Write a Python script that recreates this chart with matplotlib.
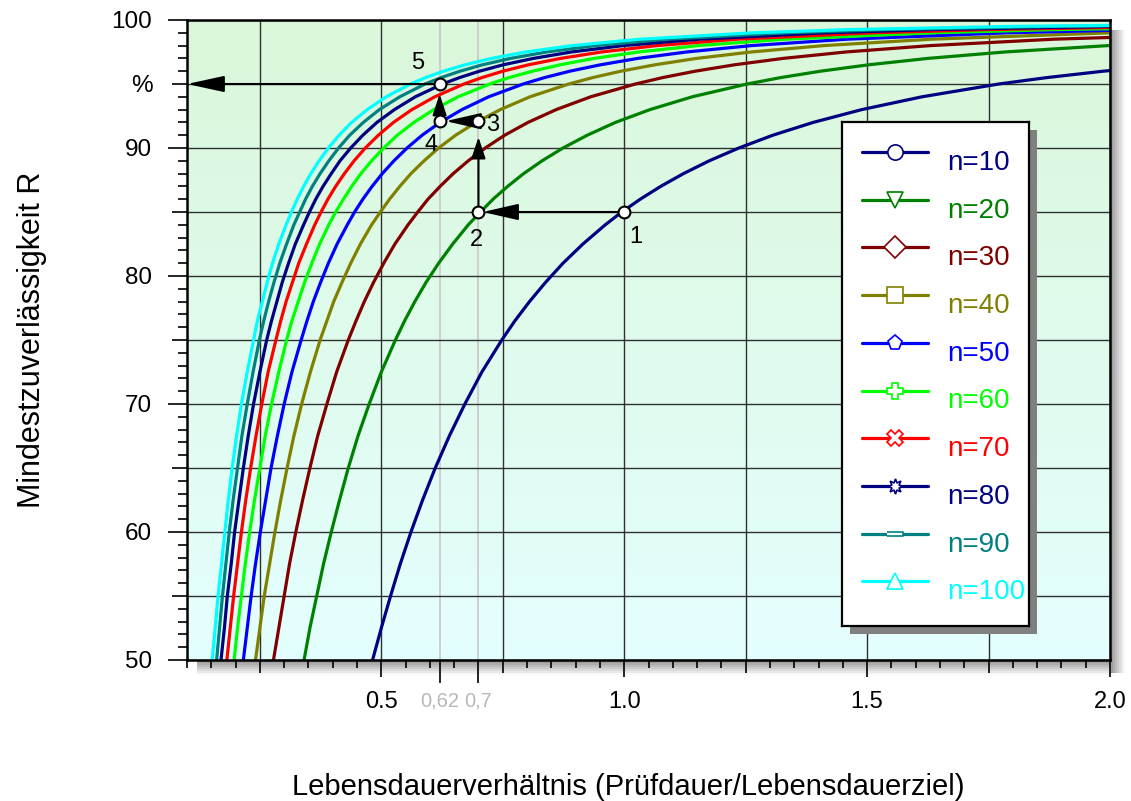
import numpy as np
import matplotlib
matplotlib.use('Agg')
import matplotlib.pyplot as plt
from matplotlib.patches import Rectangle

plt.rcParams['font.family'] = ['Liberation Sans', 'DejaVu Sans']

# Reliability levels (%) shared by all curves
r_levels = [50, 52.5, 55, 57.5, 60, 62.5, 65, 67.5, 70, 72.5, 75, 76.5, 78, 79.5,
            81, 82.5, 84, 85, 86, 87, 88, 89, 90, 91, 92, 93, 94, 95, 95.5, 96,
            96.5, 97, 97.5, 98, 98.5, 99, 99.25, 99.5, 99.7]

# Life ratio at which each curve reaches the levels above
lv_n10 = [0.482, 0.500, 0.519, 0.539, 0.561, 0.585, 0.611, 0.640, 0.672, 0.707,
          0.748, 0.775, 0.805, 0.838, 0.874, 0.915, 0.961, 0.995, 1.033, 1.075,
          1.122, 1.175, 1.236, 1.306, 1.389, 1.489, 1.613, 1.771, 1.870, 1.986,
          2.125]
lv_n20 = [0.341, 0.353, 0.367, 0.381, 0.397, 0.414, 0.432, 0.452, 0.475, 0.500,
          0.529, 0.548, 0.569, 0.592, 0.618, 0.647, 0.679, 0.704, 0.730, 0.760,
          0.793, 0.831, 0.874, 0.924, 0.982, 1.053, 1.140, 1.253, 1.322, 1.404,
          1.503, 1.625, 1.783, 1.996, 2.307]
lv_n30 = [0.278, 0.289, 0.300, 0.311, 0.324, 0.338, 0.353, 0.369, 0.388, 0.408,
          0.432, 0.448, 0.465, 0.484, 0.505, 0.528, 0.555, 0.575, 0.596, 0.621,
          0.648, 0.679, 0.714, 0.754, 0.802, 0.860, 0.931, 1.023, 1.079, 1.146,
          1.227, 1.327, 1.456, 1.630, 1.884, 2.310]
lv_n40 = [0.241, 0.250, 0.259, 0.270, 0.281, 0.293, 0.306, 0.320, 0.336, 0.354,
          0.374, 0.388, 0.402, 0.419, 0.437, 0.457, 0.480, 0.498, 0.517, 0.538,
          0.561, 0.588, 0.618, 0.653, 0.695, 0.745, 0.806, 0.886, 0.935, 0.993,
          1.063, 1.149, 1.261, 1.411, 1.632, 2.001]
lv_n50 = [0.216, 0.224, 0.232, 0.241, 0.251, 0.262, 0.273, 0.286, 0.300, 0.316,
          0.335, 0.347, 0.360, 0.375, 0.391, 0.409, 0.430, 0.445, 0.462, 0.481,
          0.502, 0.526, 0.553, 0.584, 0.621, 0.666, 0.721, 0.792, 0.836, 0.888,
          0.951, 1.028, 1.128, 1.262, 1.459, 1.790, 2.068]
lv_n60 = [0.197, 0.204, 0.212, 0.220, 0.229, 0.239, 0.250, 0.261, 0.274, 0.289,
          0.305, 0.316, 0.329, 0.342, 0.357, 0.373, 0.392, 0.406, 0.422, 0.439,
          0.458, 0.480, 0.505, 0.533, 0.567, 0.608, 0.658, 0.723, 0.763, 0.811,
          0.868, 0.938, 1.029, 1.152, 1.332, 1.634, 1.888, 2.313]
lv_n70 = [0.182, 0.189, 0.196, 0.204, 0.212, 0.221, 0.231, 0.242, 0.254, 0.267,
          0.283, 0.293, 0.304, 0.317, 0.330, 0.346, 0.363, 0.376, 0.390, 0.406,
          0.424, 0.444, 0.467, 0.494, 0.525, 0.563, 0.610, 0.670, 0.707, 0.750,
          0.803, 0.869, 0.953, 1.067, 1.233, 1.513, 1.748, 2.142]
lv_n80 = [0.170, 0.177, 0.183, 0.191, 0.198, 0.207, 0.216, 0.226, 0.237, 0.250,
          0.264, 0.274, 0.285, 0.296, 0.309, 0.323, 0.340, 0.352, 0.365, 0.380,
          0.397, 0.415, 0.437, 0.462, 0.491, 0.527, 0.570, 0.626, 0.661, 0.702,
          0.751, 0.813, 0.891, 0.998, 1.154, 1.415, 1.635, 2.003]
lv_n90 = [0.161, 0.167, 0.173, 0.180, 0.187, 0.195, 0.204, 0.213, 0.224, 0.236,
          0.249, 0.258, 0.268, 0.279, 0.291, 0.305, 0.320, 0.332, 0.344, 0.358,
          0.374, 0.392, 0.412, 0.435, 0.463, 0.496, 0.538, 0.590, 0.623, 0.662,
          0.708, 0.766, 0.840, 0.941, 1.088, 1.334, 1.541, 1.889, 2.440]
lv_n100 = [0.152, 0.158, 0.164, 0.171, 0.178, 0.185, 0.193, 0.202, 0.212, 0.224,
           0.237, 0.245, 0.255, 0.265, 0.276, 0.289, 0.304, 0.315, 0.327, 0.340,
           0.355, 0.372, 0.391, 0.413, 0.439, 0.471, 0.510, 0.560, 0.591, 0.628,
           0.672, 0.727, 0.797, 0.893, 1.032, 1.265, 1.462, 1.792, 2.314]

sample_sizes = [10, 20, 30, 40, 50, 60, 70, 80, 90, 100]
curves = [lv_n10, lv_n20, lv_n30, lv_n40, lv_n50, lv_n60, lv_n70, lv_n80, lv_n90, lv_n100]

# Worked example (points 1..5)
ex_x = [1.0, 0.7, 0.7, 0.62, 0.62]
ex_y = [85.0, 85.0, 92.1, 92.1, 95.0]
ex_labels = ['1', '2', '3', '4', '5']

# styles
colors = ['#000080', '#008000', '#800000', '#808000', '#0000ff',
          '#00ff00', '#ff0000', '#000080', '#008080', '#00ffff']
bar_marker = [(-1, -0.22), (1, -0.22), (1, 0.22), (-1, 0.22)]
markers = ['o', 'v', 'D', 's', 'p', 'P', 'X', (8, 1, 0), bar_marker, '^']
label_offsets = [(8, -18), (-1.5, -20), (10, -3), (-6, -17), (-16, 15)]
arrow_heads = ['-|>,head_length=2.2,head_width=0.5', '-|>,head_length=1.3,head_width=0.43',
               '-|>,head_length=2.2,head_width=0.5', '-|>,head_length=1.3,head_width=0.43']
arrow_shrink = [3, 11.5, 4.3, 7.2]

W, H = 1131, 801
fig = plt.figure(figsize=(W / 100, H / 100), dpi=100)
fig.patch.set_facecolor('white')
ax_l, ax_t, ax_r, ax_b = 187, 20, 1110, 660
ax = fig.add_axes([ax_l / W, 1 - ax_b / H, (ax_r - ax_l) / W, (ax_b - ax_t) / H])
ax.set_zorder(1)

# background gradient: light green at top, light cyan at bottom
top = np.array([218, 247, 218]) / 255
bottom = np.array([228, 255, 255]) / 255
t = np.linspace(0, 1, 256)[:, None]
grad = (bottom + (top - bottom) * t)[:, None, :]
ax.imshow(grad, extent=[0.1, 2.0, 50, 100], origin='lower', aspect='auto',
          interpolation='bilinear', zorder=0)

# curves
for lv, c in zip(curves, colors):
    ax.plot(lv, r_levels[:len(lv)], color=c, lw=2.3, zorder=3,
            solid_capstyle='butt', solid_joinstyle='round')

ax.set_xlim(0.1, 2.0)
ax.set_ylim(50, 100)

# axes / ticks
x_major = [0.25, 0.5, 0.62, 0.7, 0.75, 1.0, 1.25, 1.5, 1.75, 2.0]
x_major_labels = ['', '0.5', '0,62', '0,7', '', '1.0', '', '1.5', '', '2.0']
ax.set_xticks(x_major, x_major_labels)
ax.set_xticks(np.arange(0.1, 2.001, 0.05), minor=True)
y_major = np.arange(50, 101, 5)
y_major_labels = ['50', '', '60', '', '70', '', '80', '', '90', '%', '100']
ax.set_yticks(y_major, y_major_labels)
ax.set_yticks(np.arange(50, 101, 1), minor=True)

ax.set_axisbelow(True)
ax.grid(True, which='major', color='#303030', lw=1.0)
ax.tick_params(axis='x', which='major', length=12.5, width=1.2, pad=10, labelsize=17)
ax.tick_params(axis='x', which='minor', length=5.5, width=1.2)
ax.tick_params(axis='y', which='major', length=14, width=1.2, pad=11, labelsize=17.5)
ax.tick_params(axis='y', which='minor', length=6.5, width=1.2)
for sp in ax.spines.values():
    sp.set_linewidth(1.8)
    sp.set_zorder(4)

for tick, lab in zip(ax.xaxis.get_major_ticks(), x_major_labels):
    if lab == '':
        tick.tick1line.set_markersize(9.5)
    elif ',' in lab:
        tick.tick1line.set_markersize(16.5)
        tick.tick1line.set_color('#c8c8c8')
        tick.gridline.set_color('#c8c8c8')
        tick.gridline.set_linewidth(1.2)
        tick.label1.set_color('#b8b8b8')
        tick.label1.set_fontsize(14.5)
for tick, lab in zip(ax.yaxis.get_major_ticks(), y_major_labels):
    if lab in ('', '%'):
        tick.tick1line.set_markersize(11)

ax.set_xlabel('Lebensdauerverhältnis (Prüfdauer/Lebensdauerziel)', fontsize=21)
ax.xaxis.set_label_coords(0.478, -0.177)
ax.set_ylabel('Mindestzuverlässigkeit R', fontsize=22)
ax.yaxis.set_label_coords(-0.152, 0.5)

# worked example arrows and points
for i in range(len(ex_x) - 1):
    ax.annotate('', xy=(ex_x[i + 1], ex_y[i + 1]), xytext=(ex_x[i], ex_y[i]),
                arrowprops=dict(arrowstyle=arrow_heads[i], color='black', lw=1.5,
                                shrinkA=0, shrinkB=arrow_shrink[i], mutation_scale=10),
                zorder=5)
ax.annotate('', xy=(0.1, ex_y[-1]), xytext=(ex_x[-1], ex_y[-1]),
            arrowprops=dict(arrowstyle='-|>,head_length=2.3,head_width=0.5',
                            color='black', lw=1.5, shrinkA=0, shrinkB=0,
                            mutation_scale=10),
            zorder=5)
ax.plot(ex_x, ex_y, ls='none', marker='o', markersize=8.5, markerfacecolor='white',
        markeredgecolor='black', markeredgewidth=1.5, zorder=6)
for x, y, lab, off in zip(ex_x, ex_y, ex_labels, label_offsets):
    ax.annotate(lab, (x, y), xytext=off, textcoords='offset points',
                ha='center', va='center', fontsize=17, zorder=6)

# legend box (drawn by hand to match the original layout)
leg_l, leg_t, leg_r, leg_b = 842, 122, 1029, 626
fig.patches.append(Rectangle(((leg_l + 8) / W, 1 - (leg_b + 8) / H),
                             (leg_r - leg_l) / W, (leg_b - leg_t) / H,
                             transform=fig.transFigure, facecolor='#808080',
                             edgecolor='none', zorder=4))
ax_leg = fig.add_axes([leg_l / W, 1 - leg_b / H, (leg_r - leg_l) / W, (leg_b - leg_t) / H],
                      zorder=5)
ax_leg.set_xlim(0, leg_r - leg_l)
ax_leg.set_ylim(leg_b - leg_t, 0)
ax_leg.set_xticks([])
ax_leg.set_yticks([])
ax_leg.set_facecolor('white')
for sp in ax_leg.spines.values():
    sp.set_linewidth(1.6)
for i, (n, c, m) in enumerate(zip(sample_sizes, colors, markers)):
    y = 30 + 47.7 * i
    ax_leg.plot([20, 86], [y, y], color=c, lw=2.3, solid_capstyle='round')
    ax_leg.plot([53], [y], ls='none', marker=m, markersize=11, markerfacecolor='white',
                markeredgecolor=c, markeredgewidth=1.2)
    ax_leg.text(105, y + 18, f'n={n}', color=c, fontsize=20, ha='left', va='baseline')

# drop shadow of the plot area (behind the axes so the ticks stay visible)
shades = np.linspace(0.62, 0.97, 7)
for i, g in enumerate(shades):
    x0 = ax_r + 1 + 2 * i
    fig.patches.append(Rectangle((x0 / W, 1 - (ax_b + 13) / H), 2 / W, (ax_b + 13 - 30) / H,
                                 transform=fig.transFigure, facecolor=str(g),
                                 edgecolor='none', zorder=0))
for i, g in enumerate(shades):
    y0 = ax_b + 1 + 2 * i
    fig.patches.append(Rectangle((197 / W, 1 - (y0 + 2) / H), (ax_r + 1 - 197) / W, 2 / H,
                                 transform=fig.transFigure, facecolor=str(g),
                                 edgecolor='none', zorder=0))

fig.savefig('out.png', dpi=100)
